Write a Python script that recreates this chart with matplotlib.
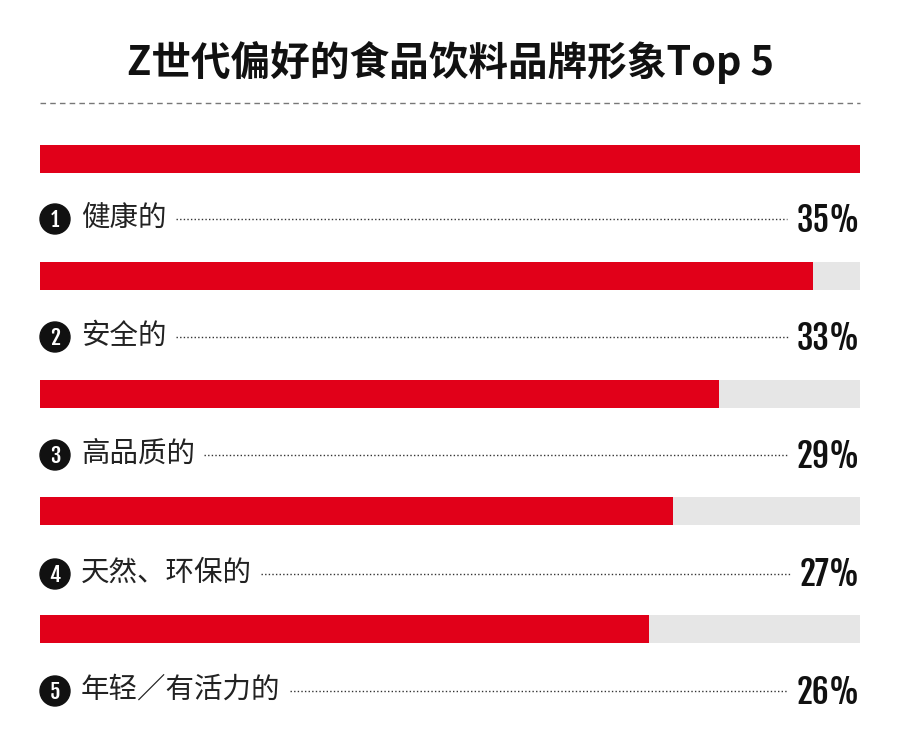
import matplotlib
matplotlib.use("Agg")
import matplotlib.pyplot as plt
from matplotlib.patches import Circle

plt.rcParams['font.family'] = ['Noto Sans CJK SC', 'DejaVu Sans']

title = "Z世代偏好的食品饮料品牌形象Top 5"
categories = ["健康的", "安全的", "高品质的", "天然、环保的", "年轻／有活力的"]
ranks = ["1", "2", "3", "4", "5"]
values = [35, 33, 29, 27, 26]
value_labels = ["35%", "33%", "29%", "27%", "26%"]

W, H = 900, 736
RED = "#e10019"
GREY = "#e6e6e6"
NUM_FONT = ["Fjalla One", "Bebas Neue", "DejaVu Sans"]

fig = plt.figure(figsize=(W / 100, H / 100), dpi=100)
fig.patch.set_facecolor("white")

axb = fig.add_axes([40 / W, 0, 820 / W, 1])
axb.set_xlim(0, max(values))
axb.set_ylim(H, 0)
axb.axis("off")

bar_y = [158.5, 275.5, 393.5, 511, 628.5]
label_y = [219, 337, 455, 574, 691]
bar_h = 28

axb.barh(bar_y, [max(values)] * len(values), height=bar_h, color=GREY, zorder=1)
axb.barh(bar_y, values, height=bar_h, color=RED, zorder=2)

ax = fig.add_axes([0, 0, 1, 1], zorder=3)
ax.set_xlim(0, W)
ax.set_ylim(H, 0)
ax.axis("off")
ax.patch.set_alpha(0)

ax.text(450, 62, title, ha="center", va="center", fontsize=28.5,
        fontweight="bold", color="#111111")
ax.plot([40, 860], [103, 103], color="#777777", lw=1.0,
        linestyle=(0, (4, 3)))

fig.canvas.draw()
renderer = fig.canvas.get_renderer()
inv = ax.transData.inverted()

for i, (r, cat, vl) in enumerate(zip(ranks, categories, value_labels)):
    y = label_y[i]
    ax.add_patch(Circle((55, y), 15, color="#111111", zorder=4))
    ax.text(55, y + 1, r, ha="center", va="center", fontsize=15,
            fontweight="bold", color="white", zorder=5,
            family=NUM_FONT, fontstretch="condensed")
    t = ax.text(81, y - 1, cat, ha="left", va="center", fontsize=20.5,
                color="#222222", fontweight="light")
    p = ax.text(860, y + 1, vl, ha="right", va="center", fontsize=24,
                fontweight="bold", color="#111111",
                family=NUM_FONT, fontstretch="condensed")
    bb_t = t.get_window_extent(renderer)
    bb_p = p.get_window_extent(renderer)
    x0 = inv.transform((bb_t.x1, 0))[0] + 9
    x1 = inv.transform((bb_p.x0, 0))[0] - 9
    ax.plot([x0, x1], [y, y], color="#333333", lw=1.0,
            linestyle=(0, (1, 1.6)))

fig.savefig("out.png", dpi=100, facecolor="white")
